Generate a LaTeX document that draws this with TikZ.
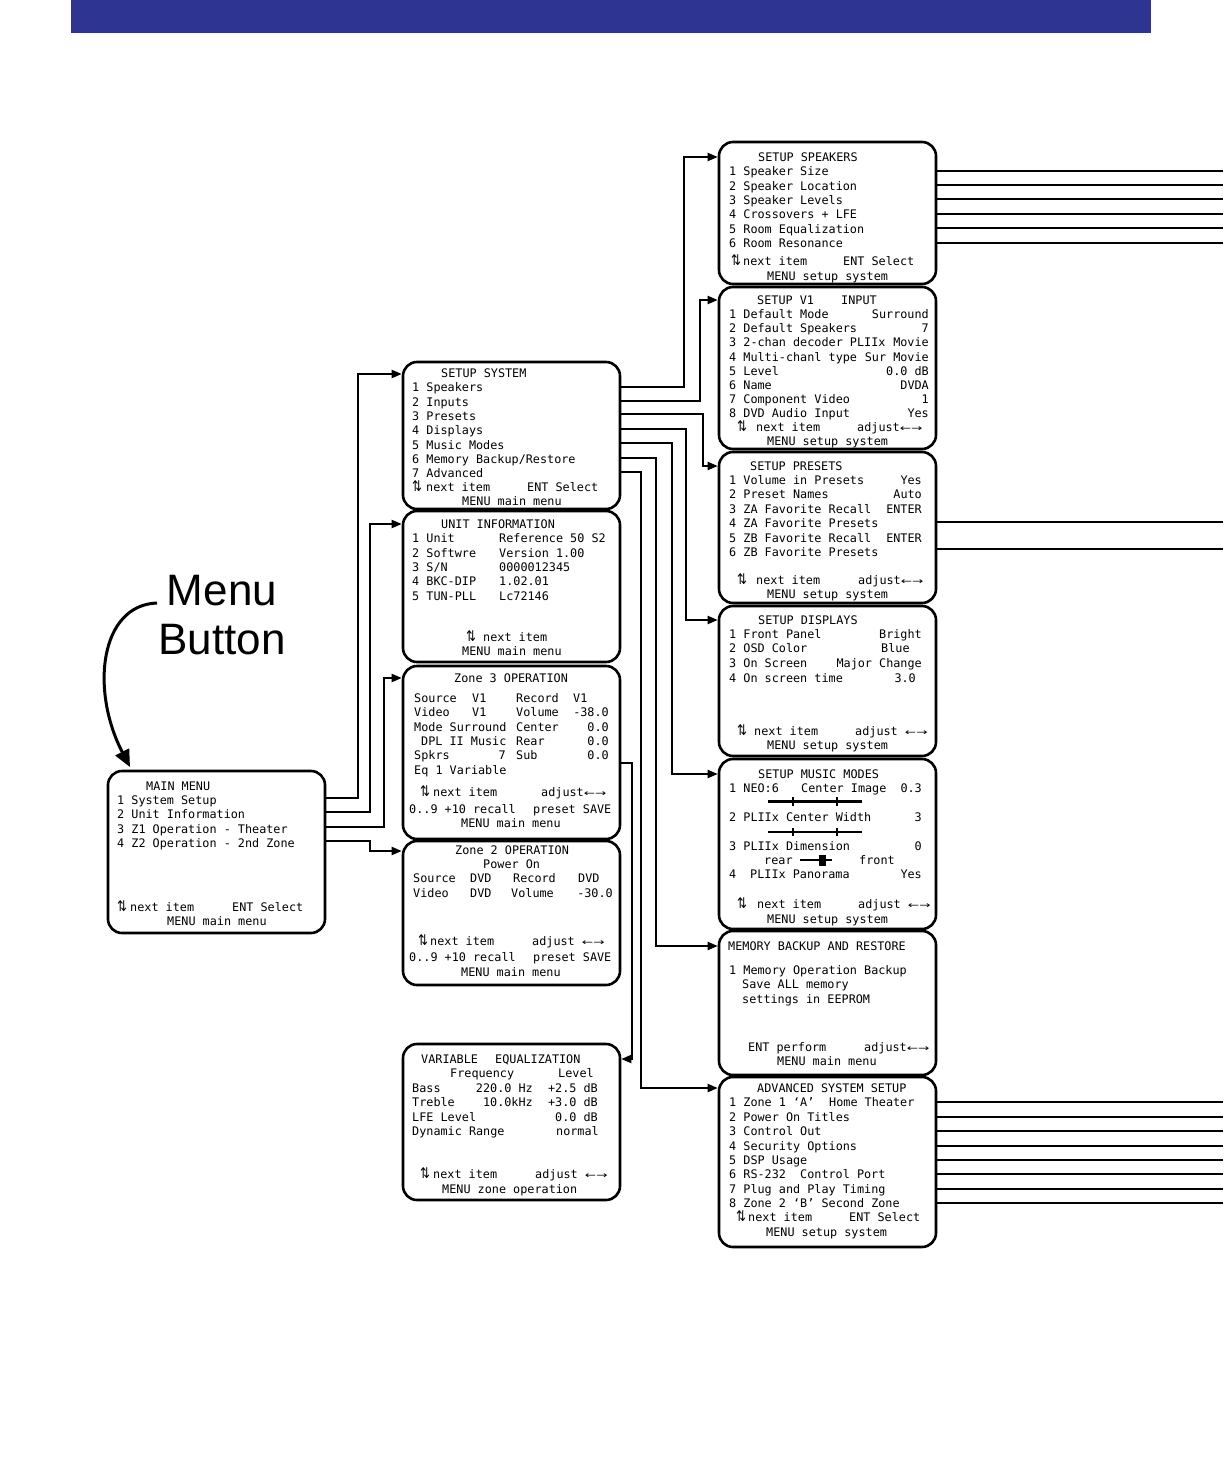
\documentclass[tikz,border=0pt]{standalone}
\usepackage{fontspec}
\usepackage{graphicx}
\usetikzlibrary{arrows.meta}
\setmainfont{DejaVu Sans Mono}
\newfontfamily\monof{DejaVu Sans Mono}
\newfontfamily\symf{DejaVu Sans}
\newfontfamily\armf{Liberation Sans}
\definecolor{barblue}{RGB}{46,52,145}
\newcounter{tn}
\newcommand\ud{{\symf\scalebox{1}[1.25]{⇅}}}
\newcommand\lr{{\symf\fontsize{9}{9}\selectfont\scalebox{1.5}[1]{←→}}}
\newcommand\txl[3]{\stepcounter{tn}\node[txt,anchor=mid west] (t\number\value{tn}) at (#1,#2) {#3};}
\newcommand\txr[3]{\stepcounter{tn}\node[txt,anchor=mid east] (t\number\value{tn}) at (#1,#2) {#3};}
\tikzset{
  menubox/.style={draw, line width=2.6pt, rounded corners=14pt, inner sep=0pt, minimum width=217pt},
  txt/.style={inner sep=0pt, yshift=-2pt, font=\monof\fontsize{11.8}{14}\selectfont},
  conn/.style={line width=2pt, -{Triangle[length=10pt,width=8pt]}},
  feed/.style={line width=1.6pt},
  bigtext/.style={inner sep=0pt, anchor=base, font=\armf\fontsize{44}{49}\selectfont},
  bigarrow/.style={line width=3pt, -{Triangle[length=17pt,width=15pt]}},
}
\begin{document}
\begin{tikzpicture}[x=1pt,y=-1pt]
\useasboundingbox (0,0) rectangle (1223,1474);
\fill[barblue] (71,0) rectangle (1151,33);
\coordinate (edge) at (1223,0);

% ---------- boxes ----------
\node[menubox, minimum height=162pt] (main) at (216.5,852) {};
\node[menubox, minimum height=147pt] (ss) at (511.5,435.5) {};
\node[menubox, minimum height=151pt] (ui) at (511.5,586.5) {};
\node[menubox, minimum height=173pt] (z3) at (511.5,752.5) {};
\node[menubox, minimum height=144pt] (z2) at (511.5,913) {};
\node[menubox, minimum height=156pt] (eq) at (511.5,1122) {};
\node[menubox, minimum height=142pt] (sp) at (827.5,213) {};
\node[menubox, minimum height=162pt] (v1) at (827.5,368) {};
\node[menubox, minimum height=151pt] (pr) at (827.5,527.5) {};
\node[menubox, minimum height=150pt] (di) at (827.5,681) {};
\node[menubox, minimum height=170pt] (mm) at (827.5,844) {};
\node[menubox, minimum height=144pt] (mb) at (827.5,1003) {};
\node[menubox, minimum height=170pt] (ad) at (827.5,1162) {};

% ---------- Menu Button ----------
\node[bigtext] (menuw) at (222,605) {Menu};
\node[bigtext] (buttonw) at (222,654) {Button};
\coordinate (cs) at (157,603);
\coordinate (ce) at (130,767);
\draw[bigarrow] (cs) .. controls (100,605) and (90,690) .. (ce);

% ---------- connectors ----------
\draw[conn] (main.east |- 0,798) -| (358,374) -- (ss.west |- 0,374);
\draw[conn] (main.east |- 0,812) -| (370,524) -- (ui.west |- 0,524);
\draw[conn] (main.east |- 0,827) -| (384,678) -- (z3.west |- 0,678);
\draw[conn] (main.east |- 0,841) -| (370,851) -- (z2.west |- 0,851);

\draw[conn] (ss.east |- 0,387) -| (684,157) -- (sp.west |- 0,157);
\draw[conn] (ss.east |- 0,401) -| (700,300) -- (v1.west |- 0,300);
\draw[conn] (ss.east |- 0,414) -| (703,466) -- (pr.west |- 0,466);
\draw[conn] (ss.east |- 0,429) -| (686,620) -- (di.west |- 0,620);
\draw[conn] (ss.east |- 0,443) -| (672,774) -- (mm.west |- 0,774);
\draw[conn] (ss.east |- 0,458) -| (656,946) -- (mb.west |- 0,946);
\draw[conn] (ss.east |- 0,472) -| (641,1088) -- (ad.west |- 0,1088);

\draw[conn] (z3.east |- 0,763) -| (632,1059) -- (eq.east |- 0,1059);

\foreach \yy in {171,185,199,214,228,243}{\draw[feed] (sp.east |- 0,\yy) -- (edge |- 0,\yy);}
\foreach \yy in {522,549}{\draw[feed] (pr.east |- 0,\yy) -- (edge |- 0,\yy);}
\foreach \yy in {1102,1117,1131,1146,1160,1174,1189,1203}{\draw[feed] (ad.east |- 0,\yy) -- (edge |- 0,\yy);}

% ---------- MAIN MENU ----------
\txl{146}{786}{MAIN MENU}
\txl{117}{800}{1 System Setup}
\txl{117}{814}{2 Unit Information}
\txl{117}{829}{3 Z1 Operation - Theater}
\txl{117}{843}{4 Z2 Operation - 2nd Zone}
\txl{117}{907}{\ud}\txl{130}{907}{next item}\txl{232}{907}{ENT Select}
\txl{167}{921}{MENU main menu}

% ---------- SETUP SYSTEM ----------
\txl{441}{373}{SETUP SYSTEM}
\txl{412}{387}{1 Speakers}
\txl{412}{402}{2 Inputs}
\txl{412}{416}{3 Presets}
\txl{412}{430}{4 Displays}
\txl{412}{445}{5 Music Modes}
\txl{412}{459}{6 Memory Backup/Restore}
\txl{412}{473}{7 Advanced}
\txl{412}{487}{\ud}\txl{426}{487}{next item}\txl{527}{487}{ENT Select}
\txl{462}{501}{MENU main menu}

% ---------- UNIT INFORMATION ----------
\txl{441}{524}{UNIT INFORMATION}
\txl{412}{538}{1 Unit}\txl{499}{538}{Reference 50 S2}
\txl{412}{553}{2 Softwre}\txl{499}{553}{Version 1.00}
\txl{412}{567}{3 S/N}\txl{499}{567}{0000012345}
\txl{412}{581}{4 BKC-DIP}\txl{499}{581}{1.02.01}
\txl{412}{596}{5 TUN-PLL}\txl{499}{596}{Lc72146}
\txl{466}{637}{\ud}\txl{483}{637}{next item}
\txl{462}{651}{MENU main menu}

% ---------- Zone 3 ----------
\txl{454}{678}{Zone 3 OPERATION}
\txl{414}{698}{Source}\txl{472}{698}{V1}\txl{516}{698}{Record}\txl{573}{698}{V1}
\txl{414}{712}{Video}\txl{472}{712}{V1}\txl{516}{712}{Volume}\txr{609}{712}{-38.0}
\txl{414}{727}{Mode Surround}\txl{516}{727}{Center}\txr{609}{727}{0.0}
\txl{421}{741}{DPL II Music}\txl{516}{741}{Rear}\txr{609}{741}{0.0}
\txl{414}{755}{Spkrs}\txr{506}{755}{7}\txl{516}{755}{Sub}\txr{609}{755}{0.0}
\txl{414}{770}{Eq 1 Variable}
\txl{420}{792}{\ud}\txl{433}{792}{next item}\txl{541}{792}{adjust\lr}
\txl{409}{809}{0..9 +10 recall}\txl{533}{809}{preset SAVE}
\txl{461}{823}{MENU main menu}

% ---------- Zone 2 ----------
\txl{455}{850}{Zone 2 OPERATION}
\txl{483}{864}{Power On}
\txl{413}{878}{Source}\txl{470}{878}{DVD}\txl{513}{878}{Record}\txl{578}{878}{DVD}
\txl{413}{893}{Video}\txl{470}{893}{DVD}\txl{511}{893}{Volume}\txr{613}{893}{-30.0}
\txl{418}{941}{\ud}\txl{430}{941}{next item}\txl{532}{941}{adjust \lr}
\txl{409}{957}{0..9 +10 recall}\txl{533}{957}{preset SAVE}
\txl{461}{972}{MENU main menu}

% ---------- VARIABLE EQUALIZATION ----------
\txl{421}{1059}{VARIABLE}\txl{495}{1059}{EQUALIZATION}
\txl{450}{1073}{Frequency}\txl{558}{1073}{Level}
\txl{412}{1088}{Bass}\txr{533}{1088}{220.0 Hz}\txr{598}{1088}{+2.5 dB}
\txl{412}{1102}{Treble}\txr{533}{1102}{10.0kHz}\txr{598}{1102}{+3.0 dB}
\txl{412}{1117}{LFE Level}\txr{598}{1117}{0.0 dB}
\txl{412}{1131}{Dynamic Range}\txr{599}{1131}{normal}
\txl{420}{1174}{\ud}\txl{433}{1174}{next item}\txl{535}{1174}{adjust \lr}
\txl{442}{1189}{MENU zone operation}

% ---------- SETUP SPEAKERS ----------
\txl{758}{157}{SETUP SPEAKERS}
\txl{729}{171}{1 Speaker Size}
\txl{729}{186}{2 Speaker Location}
\txl{729}{200}{3 Speaker Levels}
\txl{729}{214}{4 Crossovers + LFE}
\txl{729}{229}{5 Room Equalization}
\txl{729}{243}{6 Room Resonance}
\txl{731}{261}{\ud}\txl{743}{261}{next item}\txl{843}{261}{ENT Select}
\txl{767}{276}{MENU setup system}

% ---------- SETUP V1 INPUT ----------
\txl{757}{300}{SETUP V1}\txl{841}{300}{INPUT}
\txl{729}{314}{1 Default Mode}\txr{929}{314}{Surround}
\txl{729}{328}{2 Default Speakers}\txr{929}{328}{7}
\txl{729}{342}{3 2-chan decoder PLIIx}\txr{929}{342}{Movie}
\txl{729}{357}{4 Multi-chanl type}\txr{929}{357}{Sur Movie}
\txl{729}{371}{5 Level}\txr{929}{371}{0.0 dB}
\txl{729}{385}{6 Name}\txr{929}{385}{DVDA}
\txl{729}{399}{7 Component Video}\txr{929}{399}{1}
\txl{729}{413}{8 DVD Audio Input}\txr{929}{413}{Yes}
\txl{737}{427}{\ud}\txl{756}{427}{next item}\txl{857}{427}{adjust\lr}
\txl{767}{441}{MENU setup system}

% ---------- SETUP PRESETS ----------
\txl{750}{466}{SETUP PRESETS}
\txl{729}{480}{1 Volume in Presets}\txr{922}{480}{Yes}
\txl{729}{494}{2 Preset Names}\txr{922}{494}{Auto}
\txl{729}{509}{3 ZA Favorite Recall}\txr{922}{509}{ENTER}
\txl{729}{523}{4 ZA Favorite Presets}
\txl{729}{538}{5 ZB Favorite Recall}\txr{922}{538}{ENTER}
\txl{729}{552}{6 ZB Favorite Presets}
\txl{737}{580}{\ud}\txl{756}{580}{next item}\txl{858}{580}{adjust\lr}
\txl{767}{594}{MENU setup system}

% ---------- SETUP DISPLAYS ----------
\txl{758}{620}{SETUP DISPLAYS}
\txl{729}{634}{1 Front Panel}\txr{922}{634}{Bright}
\txl{729}{648}{2 OSD Color}\txl{881}{648}{Blue}
\txl{729}{663}{3 On Screen}\txr{922}{663}{Major Change}
\txl{729}{678}{4 On screen time}\txr{916}{678}{3.0}
\txl{737}{731}{\ud}\txl{754}{731}{next item}\txl{855}{731}{adjust \lr}
\txl{767}{745}{MENU setup system}

% ---------- SETUP MUSIC MODES ----------
\txl{758}{774}{SETUP MUSIC MODES}
\txl{729}{788}{1 NEO:6}\txl{801}{788}{Center Image}\txr{922}{788}{0.3}
\draw[line width=2.4pt] (768,801.5) -- (862,801.5);
\draw[line width=1.2pt] (793,797) -- (793,806) (837,797) -- (837,806);
\txl{729}{817}{2 PLIIx Center Width}\txr{922}{817}{3}
\draw[line width=1.4pt] (768,832) -- (862,832);
\draw[line width=1.2pt] (793,828) -- (793,836) (837,828) -- (837,836);
\txl{729}{846}{3 PLIIx Dimension}\txr{922}{846}{0}
\txl{764}{860}{rear}\txl{859}{860}{front}
\draw[line width=1.4pt] (800,860) -- (832,860);
\fill (819,855) rectangle (826,866);
\txl{729}{874}{4}\txl{750}{874}{PLIIx Panorama}\txr{922}{874}{Yes}
\txl{737}{904}{\ud}\txl{757}{904}{next item}\txl{858}{904}{adjust \lr}
\txl{767}{919}{MENU setup system}

% ---------- MEMORY BACKUP ----------
\txl{728}{946}{MEMORY BACKUP AND RESTORE}
\txl{729}{970}{1 Memory Operation Backup}
\txl{742}{984}{Save ALL memory}
\txl{742}{999}{settings in EEPROM}
\txl{748}{1047}{ENT perform}\txl{864}{1047}{adjust\lr}
\txl{777}{1061}{MENU main menu}

% ---------- ADVANCED ----------
\txl{757}{1088}{ADVANCED SYSTEM SETUP}
\txl{729}{1102}{1 Zone 1 ‘A’}\txl{829}{1102}{Home Theater}
\txl{729}{1117}{2 Power On Titles}
\txl{729}{1131}{3 Control Out}
\txl{729}{1146}{4 Security Options}
\txl{729}{1160}{5 DSP Usage}
\txl{729}{1174}{6 RS-232}\txl{800}{1174}{Control Port}
\txl{729}{1189}{7 Plug and Play Timing}
\txl{729}{1203}{8 Zone 2 ‘B’ Second Zone}
\txl{736}{1217}{\ud}\txl{748}{1217}{next item}\txl{849}{1217}{ENT Select}
\txl{766}{1232}{MENU setup system}
\end{tikzpicture}
\end{document}
